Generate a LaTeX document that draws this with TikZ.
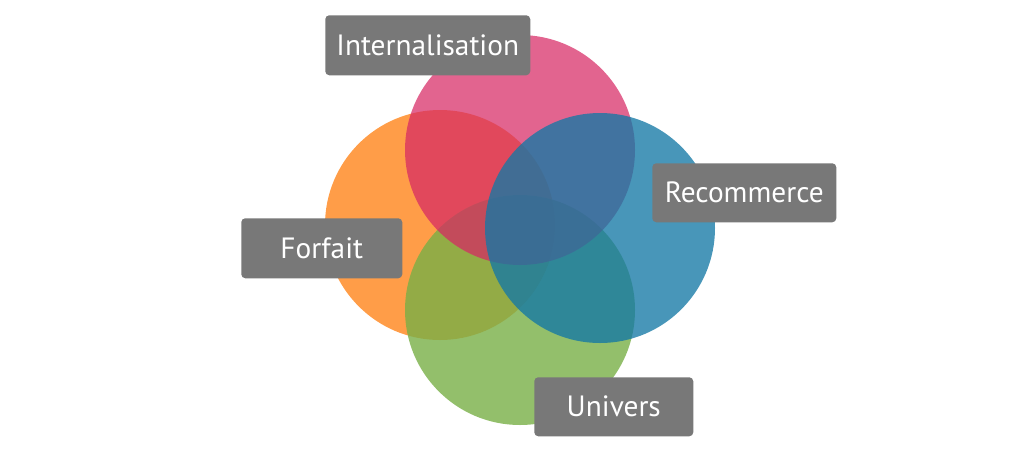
\documentclass[tikz,border=0pt]{standalone}
\usepackage{fontspec}
\setmainfont{PT Sans}
\definecolor{cOrange}{RGB}{255,140,40}
\definecolor{cPink}{RGB}{215,40,100}
\definecolor{cBlue}{RGB}{20,120,165}
\definecolor{cGreen}{RGB}{120,175,70}
\definecolor{cLabel}{RGB}{120,120,120}
\tikzset{
  tag/.style={fill=cLabel,rounded corners=3pt,text=white,font=\fontsize{22}{24}\selectfont,inner sep=0pt,anchor=north west}
}
\begin{document}
\begin{tikzpicture}[x=0.75pt,y=0.75pt,yscale=-1,xscale=1]
\useasboundingbox (0,0) rectangle (1024,451);

%Circles
\fill [cOrange,opacity=0.85] (440,225) circle (115);
\fill [cGreen,opacity=0.8] (520,310) circle (115);
\fill [cPink,opacity=0.72] (520,150) circle (115);
\fill [cBlue,opacity=0.78] (600,228) circle (115);

% Text Nodes
\node [tag,minimum width=153.75pt,minimum height=45pt] (intern) at (325,15) {Internalisation};
\node [tag,minimum width=138pt,minimum height=44.25pt] (recom) at (652,163) {Recommerce};
\node [tag,minimum width=120.75pt,minimum height=45pt] (forfait) at (241,218) {Forfait};
\node [tag,minimum width=119.25pt,minimum height=44.25pt] (univers) at (534,377) {Univers};

\end{tikzpicture}
\end{document}
